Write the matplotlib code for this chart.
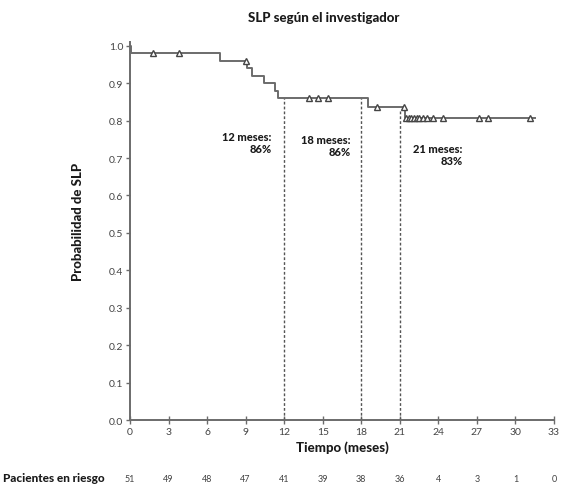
import numpy as np
import matplotlib
matplotlib.use("Agg")
import matplotlib.pyplot as plt

plt.rcParams['font.family'] = ['Lato', 'DejaVu Sans']

# curva de Kaplan-Meier (tiempos de evento y supervivencia tras cada evento)
tiempos = [0, 0.1, 7.0, 9.1, 9.5, 10.4, 11.3, 11.55, 18.5, 21.4, 31.5]
slp = [1.0, 0.98, 0.96, 0.94, 0.92, 0.90, 0.88, 0.86, 0.836, 0.807, 0.807]

# pacientes censurados
censuras = [1.8, 3.8, 9.0, 13.9, 14.65, 15.4, 19.25, 21.3,
            21.5, 21.7, 21.9, 22.1, 22.3, 22.5, 22.8, 23.1,
            23.6, 24.4, 27.2, 27.9, 31.1]

# puntos de referencia
hitos = [12, 18, 21]
hitos_valor = [0.86, 0.86, 0.83]
hitos_texto = ["12 meses:\n86%", "18 meses:\n86%", "21 meses:\n83%"]
hitos_pos = [(11.0, 0.742), (17.2, 0.734), (25.9, 0.709)]

# pacientes en riesgo
meses = [0, 3, 6, 9, 12, 15, 18, 21, 24, 27, 30, 33]
en_riesgo = [51, 49, 48, 47, 41, 39, 38, 36, 4, 3, 1, 0]

gris = "#6b6b6b"
texto = "#1a1a1a"

fig = plt.figure(figsize=(5.63, 4.89), dpi=100)
ax = fig.add_axes([0.2309, 0.139, 0.7531, 0.773])

ax.step(tiempos, slp, where="post", color=gris, lw=1.4, zorder=3)

idx = np.searchsorted(tiempos, censuras, side="right") - 1
y_cens = np.array(slp)[idx]
ax.plot(censuras, y_cens, ls="none", marker="^", ms=4, mfc="white",
        mec="#444444", mew=1.0, zorder=4)

for h, v, t, (tx, ty) in zip(hitos, hitos_valor, hitos_texto, hitos_pos):
    ax.plot([h, h], [0, v], ls=(0, (2, 1.5)), color="#555555", lw=1.0, zorder=2)
    ax.text(tx, ty, t, ha="right", va="center", fontsize=8, fontweight="black",
            color=texto, linespacing=1.15)

ax.set_xlim(0, 33)
ax.set_ylim(0, 1.01)
ax.set_xticks(meses)
ax.set_yticks(np.arange(0, 1.01, 0.1))
ax.set_yticklabels([f"{v:.1f}" for v in np.arange(0, 1.01, 0.1)])

for s in ["top", "right"]:
    ax.spines[s].set_visible(False)
for s in ["left", "bottom"]:
    ax.spines[s].set_color(gris)
    ax.spines[s].set_linewidth(1.4)

ax.tick_params(axis="x", direction="inout", length=6, width=1.0, colors=gris,
               labelsize=7.5, labelcolor="#444444", pad=2)
ax.tick_params(axis="y", direction="out", length=3, width=1.0, colors=gris,
               labelsize=7.5, labelcolor="#444444", pad=2)

ax.set_xlabel("Tiempo (meses)", fontsize=9.5, fontweight="black", color=texto, labelpad=3)
fig.text(78 / 563, 1 - 222 / 489, "Probabilidad de SLP", rotation=90, ha="center",
         va="center", fontsize=9.5, fontweight="black", color=texto)
fig.text(324 / 563, 1 - 18 / 489, "SLP según el investigador", ha="center",
         va="center", fontsize=9.5, fontweight="black", color=texto)

# tabla de pacientes en riesgo bajo el eje
trans = ax.get_xaxis_transform()
for m, n in zip(meses, en_riesgo):
    ax.text(m, -0.155, str(n), transform=trans, ha="center", va="center",
            fontsize=6.5, color="#444444", clip_on=False)
fig.text(0.005, 1 - 479 / 489, "Pacientes en riesgo", ha="left", va="center",
         fontsize=8.5, fontweight="black", color=texto)

fig.savefig("out.png", dpi=100, facecolor="white")
